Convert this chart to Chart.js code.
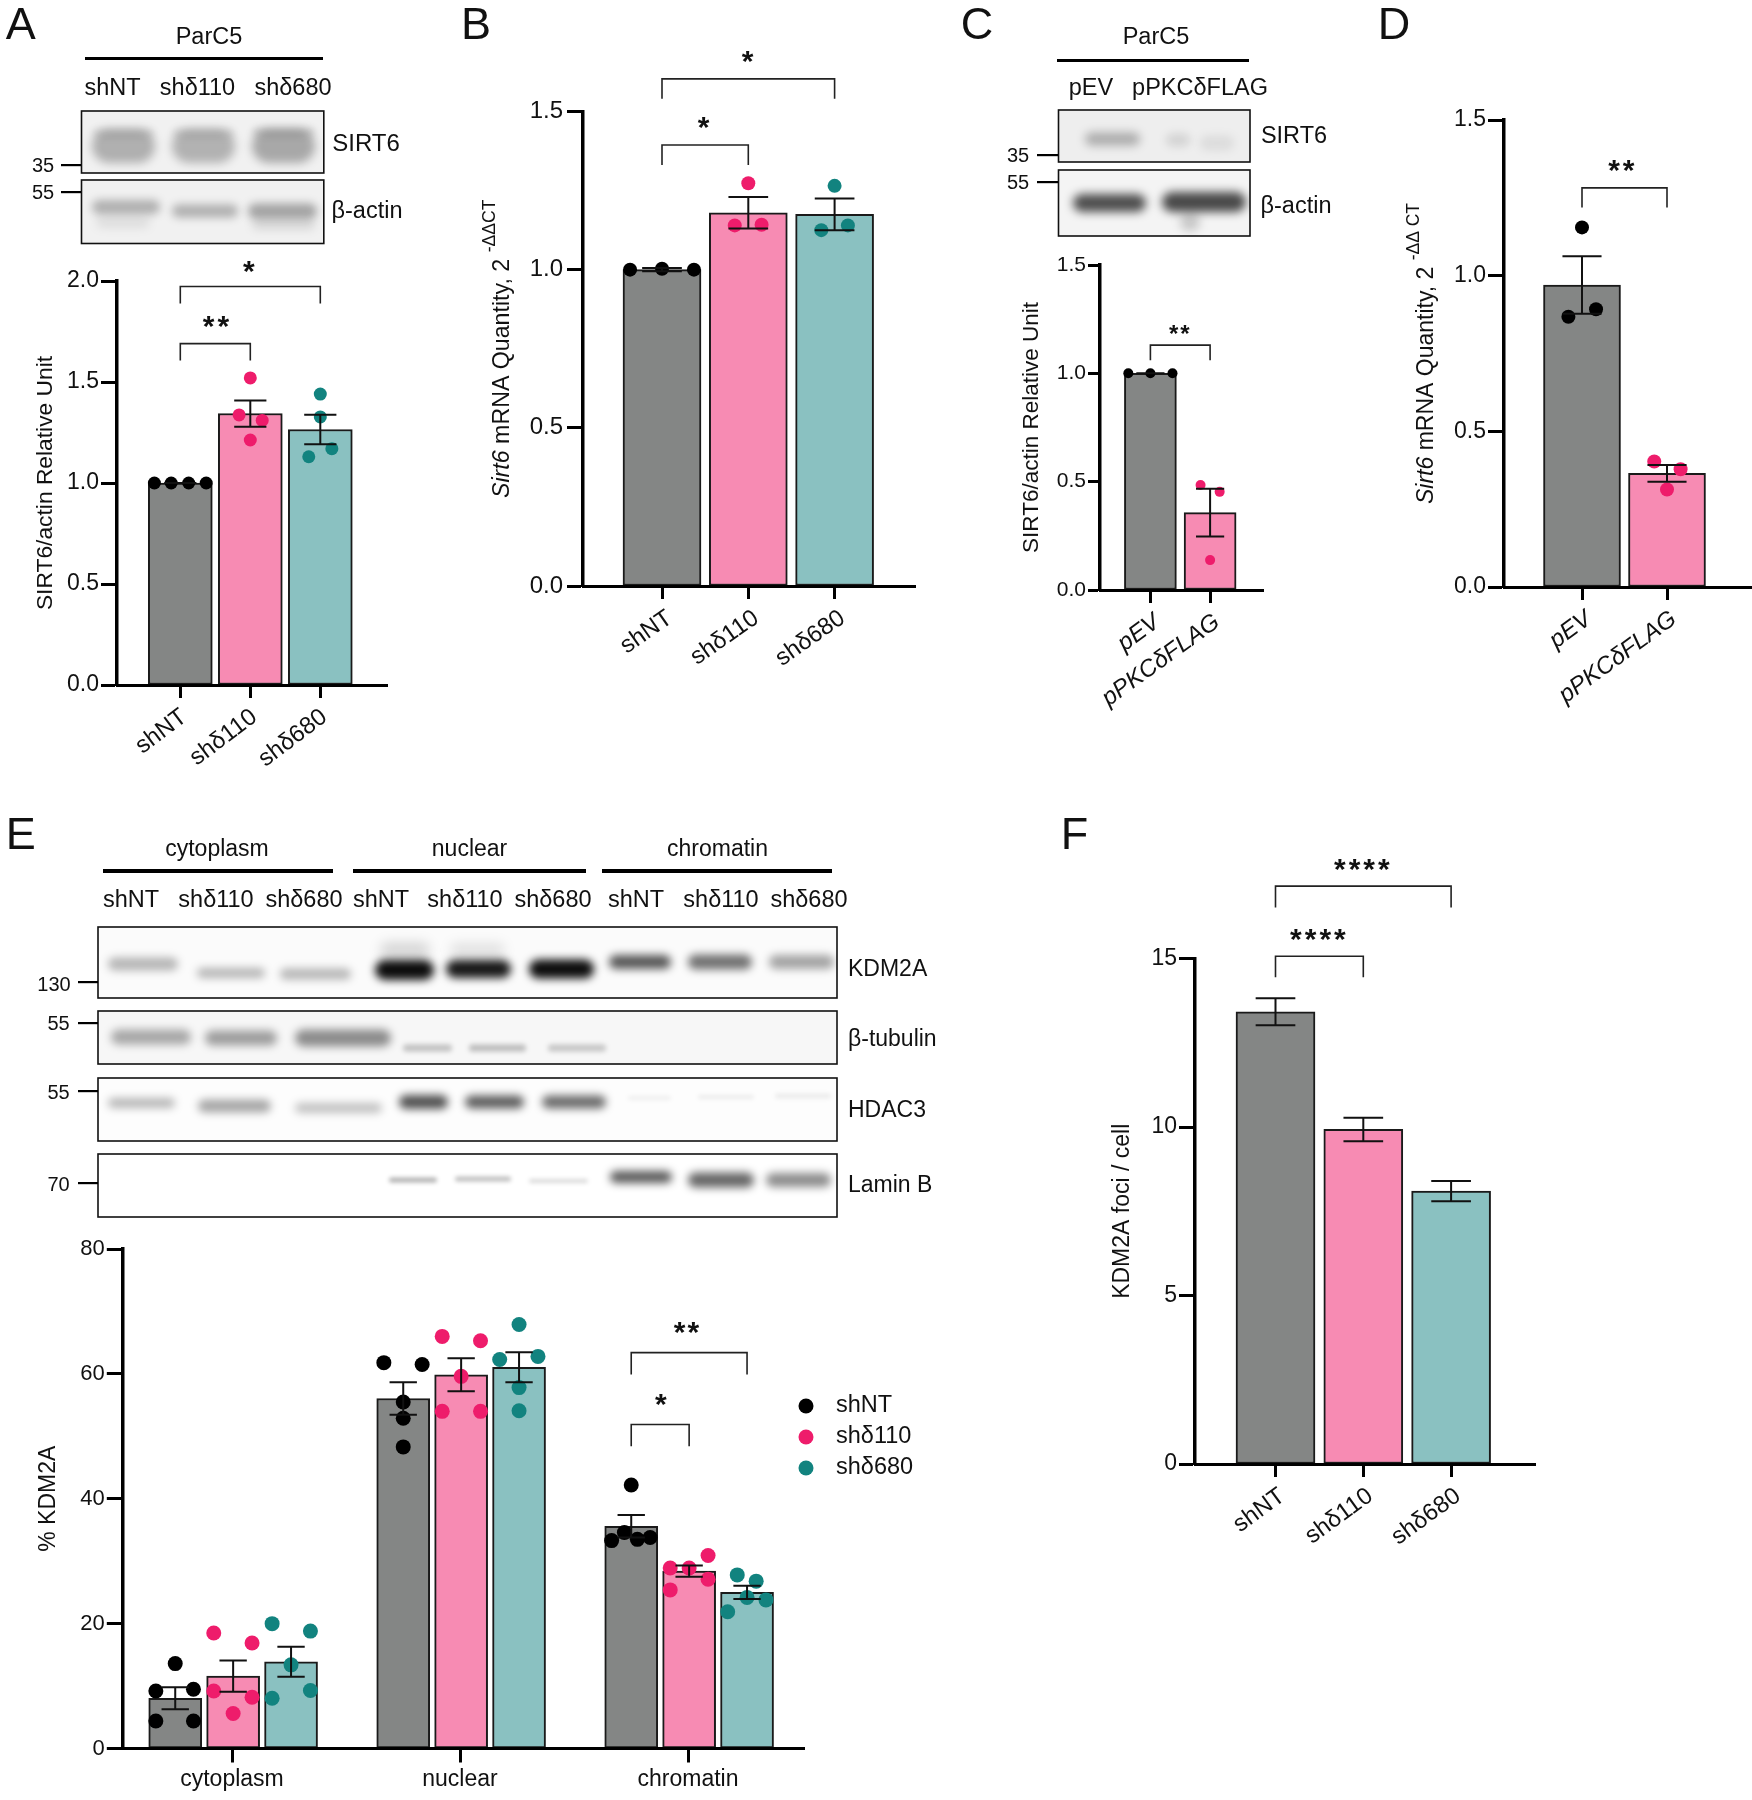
<!DOCTYPE html>
<html>
<head>
<meta charset="utf-8">
<script src="https://cdn.jsdelivr.net/npm/chart.js@4"></script>
<style>
  html, body { margin: 0; padding: 0; background: #fff; }
  #page { position: relative; width: 1752px; height: 1800px; overflow: hidden; font-family: "Liberation Sans", Arial, sans-serif; color: #111; }
  #page canvas { position: absolute; }
  .lbl { position: absolute; white-space: nowrap; transform: translate(-50%, -50%); line-height: 1; }
  .lft { transform: translate(0, -50%); }
  .rule { position: absolute; background: #000; }
</style>
</head>
<body>
<div id="page"><canvas id="blots" width="1752" height="1800" style="left:0;top:0"></canvas></div>
<script>
// ---- data ----
const shLabels = ['shNT', 'shδ110', 'shδ680'];
const flagLabels = ['pEV', 'pPKCδFLAG'];
const fractions = ['cytoplasm', 'nuclear', 'chromatin'];

const aMeans = [1.0, 1.344, 1.265];
const aSem = [0, 0.065, 0.073];
const aPoints = [[1, 1, 1, 1], [1.52, 1.337, 1.31, 1.213], [1.44, 1.327, 1.17, 1.13]];
const aJitter = [[-0.37, -0.13, 0.12, 0.37], [0, -0.16, 0.17, 0], [0, 0, 0.165, -0.165]];

const bMeans = [1.0, 1.18, 1.175];
const bSem = [0.005, 0.05, 0.05];
const bPoints = [[1, 1.003, 1], [1.273, 1.14, 1.142], [1.265, 1.125, 1.14]];
const bJitter = [[-0.37, 0, 0.37], [0, -0.157, 0.154], [0, -0.154, 0.154]];

const cMeans = [1.0, 0.357];
const cSem = [0, 0.11];
const cPoints = [[1, 1, 1], [0.485, 0.453, 0.138]];
const cJitter = [[-0.37, 0, 0.37], [-0.16, 0.16, 0]];

const dMeans = [0.97, 0.365];
const dSem = [0.092, 0.027];
const dPoints = [[1.155, 0.892, 0.868], [0.403, 0.378, 0.313]];
const dJitter = [[0, 0.165, -0.16], [-0.15, 0.16, 0]];

const eMeans = [8.05, 11.6, 13.9, 56.05, 59.85, 61.05, 35.6, 28.4, 25];
const eSem = [1.75, 2.5, 2.4, 2.6, 2.65, 2.4, 1.8, 0.9, 1.05];
const ePoints = [
  [13.6, 9.2, 9.5, 4.4, 4.4], [18.5, 16.9, 9.2, 8.2, 5.6], [20, 18.8, 13.4, 9.3, 8.05],
  [61.8, 61.5, 55.5, 52.9, 48.3], [66, 65.3, 59.6, 54, 54], [67.9, 62.3, 62.8, 57.8, 54.1],
  [42.2, 34.6, 33.3, 33.5, 33.8], [30.9, 28.9, 28.9, 27.1, 25.4], [27.8, 26.8, 24.2, 23.8, 21.9]
];
const eJitter = [
  [0, -0.085, 0.08, -0.085, 0.08], [-0.085, 0.083, -0.085, 0.083, 0], [-0.083, 0.085, 0, 0.085, -0.083],
  [-0.085, 0.083, 0, 0, 0], [-0.083, 0.085, 0, -0.083, 0.085], [0, -0.085, 0.083, 0, 0],
  [0, -0.03, -0.086, 0.027, 0.083], [0.083, -0.083, 0, 0.083, -0.083], [-0.043, 0.04, 0, 0.083, -0.085]
];

const fMeans = [13.42, 9.93, 8.1];
const fSem = [0.4, 0.35, 0.3];

const GREY = '#848685', PINK = '#f78bb3', TEAL = '#8ac1c1';
const DOT_BLACK = '#000000', DOT_PINK = '#ee1c6b', DOT_TEAL = '#12837f';
const FONT = '"Liberation Sans", Arial, sans-serif';

const page = document.getElementById('page');

function makePanel(cfg) {
  const [L, T, W, H] = cfg.box;
  const [pl, pt, pr, pb] = cfg.plot;
  const canvas = document.createElement('canvas');
  canvas.width = W; canvas.height = H;
  canvas.style.left = L + 'px'; canvas.style.top = T + 'px';
  page.appendChild(canvas);

  const xMin = cfg.tickVals[0] - (cfg.firstTick - pl) / cfg.unit;
  const xMax = cfg.tickVals[0] + (pr - cfg.firstTick) / cfg.unit;

  const barData = cfg.means.map((v, i) => ({ x: cfg.barX[i], y: v }));
  const pts = [], ptCols = [];
  (cfg.points || []).forEach((arr, i) => arr.forEach((v, j) => {
    pts.push({ x: cfg.barX[i] + cfg.jitter[i][j], y: v });
    ptCols.push(cfg.dotColors[i]);
  }));

  const starSize = cfg.starSize || 30, starGap = cfg.starGap === undefined ? 3 : cfg.starGap;

  const marks = {
    id: 'marks',
    afterDatasetsDraw(chart) {
      const c = chart.ctx, sx = chart.scales.x, sy = chart.scales.y;
      c.save();
      // error bars
      c.strokeStyle = '#111'; c.lineWidth = cfg.errWidth || 2;
      cfg.means.forEach((m, i) => {
        const x = sx.getPixelForValue(cfg.barX[i]);
        const hw = cfg.capHalf * cfg.unit;
        const y1 = sy.getPixelForValue(m + cfg.sem[i]), y2 = sy.getPixelForValue(m - cfg.sem[i]);
        c.beginPath();
        c.moveTo(x, y1); c.lineTo(x, y2);
        c.moveTo(x - hw, y1); c.lineTo(x + hw, y1);
        c.moveTo(x - hw, y2); c.lineTo(x + hw, y2);
        c.stroke();
      });
      // significance brackets
      c.lineWidth = 1.6; c.strokeStyle = '#222';
      (cfg.brackets || []).forEach(b => {
        const x1 = sx.getPixelForValue(b.x1), x2 = sx.getPixelForValue(b.x2);
        const yt = sy.getPixelForValue(b.top), yb = sy.getPixelForValue(b.bottom);
        c.beginPath();
        c.moveTo(x1, yb); c.lineTo(x1, yt); c.lineTo(x2, yt); c.lineTo(x2, yb);
        c.stroke();
        c.fillStyle = '#111';
        c.font = 'bold ' + starSize + 'px ' + FONT;
        c.letterSpacing = starGap + 'px';
        c.textAlign = 'center'; c.textBaseline = 'middle';
        c.fillText(b.stars, sx.getPixelForValue(b.starX), sy.getPixelForValue(b.starY) + starSize * 0.12);
        c.letterSpacing = '0px';
      });
      c.restore();
    },
    afterDraw(chart) {
      const c = chart.ctx, area = chart.chartArea;
      c.save();
      // y title, may have italic and raised runs
      c.translate(cfg.titleX - L, (area.top + area.bottom) / 2);
      c.rotate(-Math.PI / 2);
      c.textBaseline = 'middle'; c.textAlign = 'left'; c.fillStyle = '#111';
      const fontOf = r => (r.italic ? 'italic ' : '') + (r.sup ? cfg.titleSize * 0.76 : cfg.titleSize) + 'px ' + FONT;
      let total = 0;
      cfg.title.forEach(r => { c.font = fontOf(r); total += c.measureText(r.text).width; });
      let px = -total / 2;
      cfg.title.forEach(r => {
        c.font = fontOf(r);
        c.fillText(r.text, px, r.sup ? -cfg.titleSize * 0.55 : 0);
        px += c.measureText(r.text).width;
      });
      c.restore();
      if (cfg.legend) {
        c.save();
        c.font = '23.5px ' + FONT; c.textBaseline = 'middle'; c.fillStyle = '#111';
        cfg.legend.names.forEach((name, i) => {
          const y = cfg.legend.y + i * cfg.legend.dy - T;
          c.fillStyle = cfg.legend.colors[i];
          c.beginPath(); c.arc(cfg.legend.x - L, y, 7.5, 0, Math.PI * 2); c.fill();
          c.fillStyle = '#111';
          c.fillText(name, cfg.legend.textX - L, y);
        });
        c.restore();
      }
    }
  };

  const datasets = [{
    type: 'bar', order: 2, data: barData, backgroundColor: cfg.barColors,
    borderColor: '#1a1a1a', borderWidth: 2, barThickness: cfg.barWidth, grouped: false, borderSkipped: false
  }];
  if (pts.length) datasets.unshift({
    type: 'scatter', order: 1, data: pts, pointRadius: cfg.dotR, pointBackgroundColor: ptCols,
    pointBorderWidth: 0, showLine: false, clip: false
  });

  return new Chart(canvas, {
    type: 'bar',
    data: { datasets },
    plugins: [marks],
    options: {
      responsive: false, animation: false,
      layout: { autoPadding: false, padding: { left: 0, bottom: 0, top: pt - T, right: L + W - pr } },
      plugins: { legend: { display: false }, tooltip: { enabled: false } },
      scales: {
        x: {
          type: 'linear', min: xMin, max: xMax, offset: false,
          grid: { offset: false, drawOnChartArea: false, tickLength: cfg.xTickLen || 13, tickWidth: 3, tickColor: '#000' },
          border: { width: 3, color: '#000', z: 1 },
          afterBuildTicks: s => { s.ticks = cfg.tickVals.map(v => ({ value: v })); },
          afterFit: s => { s.height = T + H - pb; s.paddingLeft = 0; s.paddingRight = 0; },
          ticks: {
            autoSkip: false, minRotation: cfg.rotation, maxRotation: cfg.rotation, padding: cfg.xPad === undefined ? 5 : cfg.xPad,
            labelOffset: cfg.labelOffset || 0,
            color: '#111', font: { family: FONT, size: cfg.xSize, style: cfg.xItalic ? 'italic' : 'normal' },
            callback: v => cfg.tickLabels[cfg.tickVals.indexOf(v)]
          }
        },
        y: {
          min: 0, max: cfg.yMax,
          grid: { drawOnChartArea: false, tickLength: cfg.yTickLen || 16, tickWidth: 3, tickColor: '#000' },
          border: { width: 3.5, color: '#000', z: 1 },
          afterFit: s => { s.width = pl - L; s.paddingTop = 0; s.paddingBottom = 0; },
          ticks: {
            stepSize: cfg.yStep, padding: cfg.yPad === undefined ? 2 : cfg.yPad, color: '#111', font: { family: FONT, size: cfg.ySize },
            callback: v => v.toFixed(cfg.yDigits)
          }
        }
      }
    }
  });
}

makePanel({
  box: [0, 240, 400, 540], plot: [117, 281, 387, 685], firstTick: 180.3, unit: 70,
  tickVals: [1, 2, 3], tickLabels: shLabels, barX: [1, 2, 3], means: aMeans, sem: aSem, points: aPoints, jitter: aJitter,
  barColors: [GREY, PINK, TEAL], dotColors: [DOT_BLACK, DOT_PINK, DOT_TEAL], barWidth: 64, dotR: 6.5, capHalf: 0.23,
  yMax: 2, yStep: 0.5, yDigits: 1, ySize: 23, xSize: 24, rotation: 37, labelOffset: 4,
  title: [{ text: 'SIRT6/actin Relative Unit' }], titleX: 46, titleSize: 22.8,
  brackets: [
    { x1: 1, x2: 3, top: 1.973, bottom: 1.889, stars: '*', starX: 2, starY: 2.06 },
    { x1: 1, x2: 2, top: 1.69, bottom: 1.606, stars: '**', starX: 1.53, starY: 1.785 }
  ]
});

makePanel({
  box: [480, 30, 460, 700], plot: [583, 111.5, 915, 586], firstTick: 662, unit: 86.3,
  tickVals: [1, 2, 3], tickLabels: shLabels, barX: [1, 2, 3], means: bMeans, sem: bSem, points: bPoints, jitter: bJitter,
  barColors: [GREY, PINK, TEAL], dotColors: [DOT_BLACK, DOT_PINK, DOT_TEAL], barWidth: 78, dotR: 7, capHalf: 0.23,
  yMax: 1.5, yStep: 0.5, yDigits: 1, ySize: 24, xSize: 24, rotation: 35, labelOffset: 8, yPad: 4,
  title: [{ text: 'Sirt6', italic: true }, { text: ' mRNA Quantity, 2 ' }, { text: '-ΔΔCT', sup: true }], titleX: 503, titleSize: 23.2,
  brackets: [
    { x1: 1, x2: 3, top: 1.603, bottom: 1.54, stars: '*', starX: 2.01, starY: 1.666 },
    { x1: 1, x2: 2, top: 1.394, bottom: 1.331, stars: '*', starX: 1.5, starY: 1.458 }
  ]
});

makePanel({
  box: [1010, 240, 280, 480], plot: [1100, 265, 1263, 590], firstTick: 1150.4, unit: 59.7,
  tickVals: [1, 2], tickLabels: flagLabels, barX: [1, 2], means: cMeans, sem: cSem, points: cPoints, jitter: cJitter,
  barColors: [GREY, PINK], dotColors: [DOT_BLACK, DOT_PINK], barWidth: 52, dotR: 5, capHalf: 0.236,
  yMax: 1.5, yStep: 0.5, yDigits: 1, ySize: 21, xSize: 24, xItalic: true, rotation: 36, yTickLen: 12, labelOffset: 7,
  title: [{ text: 'SIRT6/actin Relative Unit' }], titleX: 1032, titleSize: 22.5,
  starSize: 24, starGap: 2,
  brackets: [{ x1: 1, x2: 2, top: 1.13, bottom: 1.06, stars: '**', starX: 1.5, starY: 1.19 }]
});

makePanel({
  box: [1390, 100, 362, 640], plot: [1504, 120, 1752, 587], firstTick: 1582, unit: 85,
  tickVals: [1, 2], tickLabels: flagLabels, barX: [1, 2], means: dMeans, sem: dSem, points: dPoints, jitter: dJitter,
  barColors: [GREY, PINK], dotColors: [DOT_BLACK, DOT_PINK], barWidth: 77, dotR: 7, capHalf: 0.23,
  yMax: 1.5, yStep: 0.5, yDigits: 1, ySize: 23, xSize: 24, xItalic: true, rotation: 36, yTickLen: 16, labelOffset: 7,
  title: [{ text: 'Sirt6', italic: true }, { text: ' mRNA Quantity, 2 ' }, { text: '-ΔΔ CT', sup: true }], titleX: 1427, titleSize: 23,
  brackets: [{ x1: 1, x2: 2, top: 1.282, bottom: 1.219, stars: '**', starX: 1.48, starY: 1.345 }]
});

const eBarX = [], eBarCol = [], eDotCol = [];
[1, 2, 3].forEach(g => [-0.249, 0.005, 0.259].forEach((o, i) => {
  eBarX.push(g + o);
  eBarCol.push([GREY, PINK, TEAL][i]);
  eDotCol.push([DOT_BLACK, DOT_PINK, DOT_TEAL][i]);
}));

makePanel({
  box: [0, 1240, 960, 560], plot: [122.8, 1249, 804, 1748.5], firstTick: 232, unit: 228,
  tickVals: [1, 2, 3], tickLabels: fractions, barX: eBarX, means: eMeans, sem: eSem, points: ePoints, jitter: eJitter,
  barColors: eBarCol, dotColors: eDotCol, barWidth: 53, dotR: 7.5, capHalf: 0.06,
  yMax: 80, yStep: 20, yDigits: 0, ySize: 22, xSize: 23, rotation: 0, xTickLen: 14, xPad: 3,
  title: [{ text: '% KDM2A' }], titleX: 49, titleSize: 23,
  starGap: 2,
  brackets: [
    { x1: 2.751, x2: 3.259, top: 63.4, bottom: 59.9, stars: '**', starX: 2.998, starY: 67 },
    { x1: 2.751, x2: 3.005, top: 51.9, bottom: 48.4, stars: '*', starX: 2.885, starY: 55.5 }
  ],
  legend: { names: shLabels, colors: [DOT_BLACK, DOT_PINK, DOT_TEAL], x: 806, textX: 836, y: 1406, dy: 31 }
});

makePanel({
  box: [1100, 850, 500, 700], plot: [1195, 958.6, 1535, 1464], firstTick: 1275.5, unit: 87.8,
  tickVals: [1, 2, 3], tickLabels: shLabels, barX: [1, 2, 3], means: fMeans, sem: fSem,
  barColors: [GREY, PINK, TEAL], dotColors: [], barWidth: 79, dotR: 0, capHalf: 0.226,
  yMax: 15, yStep: 5, yDigits: 0, ySize: 23, xSize: 24, rotation: 36, labelOffset: 7,
  title: [{ text: 'KDM2A foci / cell' }], titleX: 1123, titleSize: 23,
  starGap: 3,
  brackets: [
    { x1: 1, x2: 3, top: 17.15, bottom: 16.52, stars: '****', starX: 2, starY: 17.7 },
    { x1: 1, x2: 2, top: 15.07, bottom: 14.45, stars: '****', starX: 1.5, starY: 15.63 }
  ]
});

// ---- western blot panels, only a rough painting of the scans ----
const bctx = document.getElementById('blots').getContext('2d');
function blot(x1, y1, x2, y2, bg, bands) {
  bctx.save();
  bctx.beginPath(); bctx.rect(x1, y1, x2 - x1, y2 - y1); bctx.clip();
  bctx.fillStyle = bg; bctx.fillRect(x1, y1, x2 - x1, y2 - y1);
  bands.forEach(b => {
    bctx.filter = 'blur(' + (b[5] || 4) + 'px)';
    bctx.fillStyle = 'rgba(0,0,0,' + b[4] + ')';
    bctx.beginPath();
    bctx.roundRect(b[0], b[2] - b[3] / 2, b[1] - b[0], b[3], b[3] / 2);
    bctx.fill();
  });
  bctx.restore();
  bctx.strokeStyle = '#111'; bctx.lineWidth = 1.6;
  bctx.strokeRect(x1, y1, x2 - x1, y2 - y1);
}
function mwTick(x1, x2, y) {
  bctx.fillStyle = '#000'; bctx.fillRect(x1, y - 1, x2 - x1, 2.2);
}

blot(81.5, 111, 323.8, 173, '#f1f1f1', [
  [92, 155, 146, 34, .27, 5], [92, 155, 133, 10, .07, 3],
  [172, 235, 146, 34, .26, 5], [172, 235, 133, 10, .07, 3],
  [252, 315, 146, 34, .3, 5], [252, 315, 132, 10, .1, 3]
]);
blot(81.5, 180, 323.8, 243.5, '#f1f1f1', [
  [92, 160, 207, 14, .27], [96, 150, 222, 12, .08, 5],
  [172, 238, 211, 13, .27], [248, 317, 211, 15, .32], [252, 315, 224, 10, .12, 5]
]);
mwTick(61, 81, 165); mwTick(61, 81, 192);

blot(1058.5, 110, 1250, 162, '#eeeeee', [
  [1085, 1140, 139, 13, .28, 5], [1166, 1190, 140, 13, .11, 4], [1200, 1234, 143, 14, .08, 5]
]);
blot(1058.5, 170, 1250, 236, '#f4f4f4', [
  [1073, 1146, 203, 18, .68, 5], [1162, 1246, 202, 20, .7, 5], [1180, 1200, 222, 18, .18, 5]
]);
mwTick(1037, 1058, 155); mwTick(1037, 1058, 182);

blot(98, 927, 837, 998, '#fbfbfb', [
  [108, 178, 964, 13, .28], [197, 265, 973, 10, .28], [280, 351, 974, 11, .28],
  [375, 434, 970, 20, .95], [446, 511, 969, 18, .9], [529, 594, 969, 19, .95],
  [380, 430, 950, 16, .14, 6], [450, 505, 950, 14, .1, 6],
  [609, 671, 962, 14, .65], [688, 752, 962, 15, .55], [769, 834, 962, 14, .35]
]);
blot(98, 1011, 837, 1064, '#f7f7f7', [
  [111, 191, 1037, 15, .32], [205, 277, 1038, 15, .36], [295, 391, 1038, 17, .43],
  [403, 452, 1048, 7, .22, 2.5], [469, 526, 1048, 7, .24, 2.5], [548, 606, 1048, 7, .2, 2.5]
]);
blot(98, 1078, 837, 1141, '#fdfdfd', [
  [108, 175, 1103, 10, .28], [198, 271, 1106, 13, .34], [295, 382, 1108, 10, .24],
  [399, 448, 1102, 14, .68], [465, 524, 1102, 13, .63], [542, 606, 1102, 13, .58],
  [628, 671, 1098, 4, .06, 2], [698, 754, 1097, 4, .07, 2], [775, 831, 1096, 5, .07, 2]
]);
blot(98, 1154, 837, 1217, '#ffffff', [
  [389, 437, 1180, 5, .3, 2], [455, 511, 1179, 5, .25, 2], [529, 588, 1181, 4, .15, 2],
  [610, 672, 1177, 12, .65], [688, 754, 1180, 15, .6], [766, 831, 1180, 14, .45]
]);
mwTick(78, 98, 982); mwTick(78, 98, 1023); mwTick(78, 98, 1091); mwTick(78, 98, 1183);

// ---- text around the charts ----
function label(text, x, y, size, left) {
  const s = document.createElement('span');
  s.className = left ? 'lbl lft' : 'lbl';
  s.textContent = text;
  s.style.left = x + 'px'; s.style.top = y + 'px'; s.style.fontSize = size + 'px';
  page.appendChild(s);
}
function rule(x1, x2, y, t) {
  const d = document.createElement('div');
  d.className = 'rule';
  d.style.cssText = 'left:' + x1 + 'px;top:' + (y - t / 2) + 'px;width:' + (x2 - x1) + 'px;height:' + t + 'px';
  page.appendChild(d);
}

[['A', 20.7, 23], ['B', 476, 23], ['C', 977, 23], ['D', 1394, 23], ['E', 20.7, 833], ['F', 1074.6, 833]]
  .forEach(p => label(p[0], p[1], p[2], 45));

label('ParC5', 209, 37, 23.5); rule(85, 323, 58.5, 3);
[112.5, 197.5, 293].forEach((x, i) => label(shLabels[i], x, 88, 23.5));
label('SIRT6', 366, 143, 24); label('β-actin', 367, 211, 23.5);
label('35', 43, 165, 20); label('55', 43, 192, 20);

label('ParC5', 1156, 37, 23.5); rule(1057, 1249, 60, 3);
label('pEV', 1091, 88, 23.5); label('pPKCδFLAG', 1200, 88, 23.5);
label('SIRT6', 1294, 136, 23.5); label('β-actin', 1296, 206, 23.5);
label('35', 1018, 155, 20); label('55', 1018, 182, 20);

[[189, 0], [409, 1], [625, 2]].forEach(p => label(fractions[p[1]], p[0] * 1.148, 848, 23));
rule(103, 333, 871, 3.5); rule(352.5, 585.5, 871, 3.5); rule(601.6, 832, 871, 3.5);
[131, 216, 304, 381, 465, 553, 636, 721, 809].forEach((x, i) => label(shLabels[i % 3], x, 899.5, 23.5));
label('KDM2A', 848, 968, 23, true); label('β-tubulin', 848, 1038, 23, true);
label('HDAC3', 848, 1109, 23, true); label('Lamin B', 848, 1184, 23, true);
label('130', 54, 984, 20); label('55', 58.5, 1023, 20); label('55', 58.5, 1092, 20); label('70', 58.5, 1184, 20);
</script>
</body>
</html>
